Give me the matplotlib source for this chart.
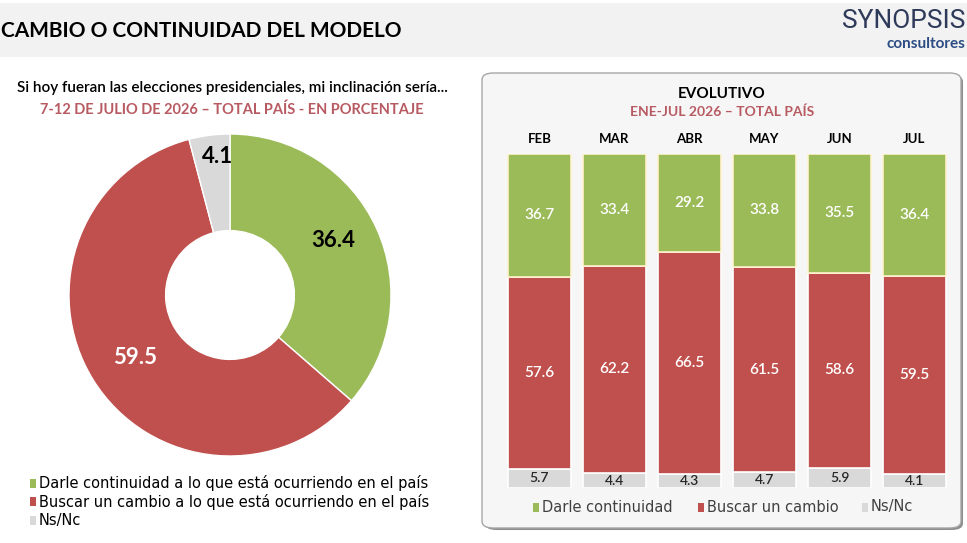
import numpy as np
import matplotlib.pyplot as plt
from matplotlib.patches import FancyBboxPatch, Rectangle

# ==========================================
# DATA
# ==========================================

pie_labels = ["Darle continuidad a lo que está ocurriendo en el país",
              "Buscar un cambio a lo que está ocurriendo en el país",
              "Ns/Nc"]
pie_values = [36.4, 59.5, 4.1]

months = ["FEB", "MAR", "ABR", "MAY", "JUN", "JUL"]
continuidad = [36.7, 33.4, 29.2, 33.8, 35.5, 36.4]
cambio = [57.6, 62.2, 66.5, 61.5, 58.6, 59.5]
nsnc = [5.7, 4.4, 4.3, 4.7, 5.9, 4.1]
bar_legend = ["Darle continuidad", "Buscar un cambio", "Ns/Nc"]

GREEN = "#9bbb59"
RED = "#c0504d"
GRAY = "#d9d9d9"
ROSE = "#b85a62"
colors = [GREEN, RED, GRAY]

plt.rcParams["font.family"] = ["Lato", "DejaVu Sans"]

W, H = 967, 543
fig = plt.figure(figsize=(W / 100, H / 100), dpi=100)
fig.patch.set_facecolor("white")


def fx(px):
    return px / W


def fy(py):
    return 1 - py / H


# ==========================================
# HEADER
# ==========================================

fig.patches.append(Rectangle((0, fy(57)), 1, fy(3) - fy(57), transform=fig.transFigure,
                             facecolor="#f2f2f2", edgecolor="none", zorder=0))
fig.text(fx(1), fy(31), "CAMBIO O CONTINUIDAD DEL MODELO", fontsize=15,
         fontweight="bold", va="center", ha="left", color="black")
fig.text(fx(965), fy(21), "SYNOPSIS", fontsize=19, color="#2e3a59",
         va="center", ha="right", fontfamily=["Roboto", "DejaVu Sans"])
fig.text(fx(965), fy(44), "consultores", fontsize=11, color="#2b4c82",
         va="center", ha="right", fontweight="bold")

# ==========================================
# LEFT: DONUT
# ==========================================

fig.text(fx(232), fy(88), "Si hoy fueran las elecciones presidenciales, mi inclinación sería...",
         fontsize=11, fontweight="semibold", ha="center", va="center")
fig.text(fx(232), fy(110), "7-12 DE JULIO DE 2026 – TOTAL PAÍS - EN PORCENTAJE",
         fontsize=10.5, fontweight="bold", ha="center", va="center", color=ROSE)

cx, cy, r = 230, 295, 161
ax_pie = fig.add_axes([fx(cx - r), fy(cy + r), 2 * r / W, 2 * r / H])
ax_pie.set_zorder(1)
wedges, _ = ax_pie.pie(pie_values, colors=colors, startangle=90, counterclock=False,
                       radius=1, wedgeprops=dict(width=0.6, edgecolor="white", linewidth=1))
ax_pie.set_aspect("equal")
ax_pie.set_xlim(-1, 1)
ax_pie.set_ylim(-1, 1)

pie_text_pos = [(0.64, 0.34), (-0.59, -0.39), (-0.08, 0.86)]
pie_text_col = ["black", "white", "black"]
for v, (tx, ty), c in zip(pie_values, pie_text_pos, pie_text_col):
    ax_pie.text(tx, ty, f"{v:.1f}", fontsize=16, fontweight="bold", color=c,
                ha="center", va="center")

for i, lab in enumerate(pie_labels):
    y = 483 + i * 18.5
    fig.patches.append(Rectangle((fx(30), fy(y + 4.5)), 6 / W, 9 / H, transform=fig.transFigure,
                                 facecolor=colors[i], edgecolor="none"))
    fig.text(fx(39), fy(y), lab, fontsize=10.5, va="center", ha="left",
             fontfamily="DejaVu Sans")

# ==========================================
# RIGHT: EVOLUTIVO PANEL
# ==========================================

shadow = FancyBboxPatch((fx(485), fy(530)), fx(962) - fx(484), fy(75) - fy(530),
                        boxstyle="round,pad=0,rounding_size=0.012", transform=fig.transFigure,
                        facecolor="#8c8c8c", edgecolor="none", zorder=0.5)
panel = FancyBboxPatch((fx(482), fy(528)), fx(961) - fx(482), fy(73) - fy(528),
                       boxstyle="round,pad=0,rounding_size=0.012", transform=fig.transFigure,
                       facecolor="#f6f6f6", edgecolor="#a6a6a6", linewidth=1, zorder=0.6)
fig.patches.extend([shadow, panel])

fig.text(fx(722), fy(94), "EVOLUTIVO", fontsize=11, fontweight="bold", ha="center", va="center")
fig.text(fx(722), fy(112), "ENE-JUL 2026 – TOTAL PAÍS", fontsize=10, fontweight="bold",
         ha="center", va="center", color=ROSE)

ax_bar = fig.add_axes([fx(502), fy(488), fx(952) - fx(502), fy(154) - fy(488)])
ax_bar.set_zorder(1)
ax_bar.set_facecolor("none")
x = np.arange(len(months))
bw = 0.85
ns = np.array(nsnc)
ca = np.array(cambio)
co = np.array(continuidad)
ax_bar.bar(x, ns, bw, color=GRAY, edgecolor="white", linewidth=1.2)
ax_bar.bar(x, ca, bw, bottom=ns, color=RED, edgecolor="white", linewidth=1.2)
ax_bar.bar(x, co, bw, bottom=ns + ca, color=GREEN, edgecolor="#fff2cc", linewidth=1.2)
ax_bar.set_xlim(-0.5, len(months) - 0.5)
ax_bar.set_ylim(0, 100)
ax_bar.axis("off")

for i in range(len(months)):
    ax_bar.text(x[i], ns[i] / 2, f"{ns[i]:.1f}", fontsize=10, fontweight="semibold",
                ha="center", va="center", color="#262626")
    ax_bar.text(x[i], ns[i] + ca[i] / 2, f"{ca[i]:.1f}", fontsize=11, fontweight="semibold",
                ha="center", va="center", color="white")
    ax_bar.text(x[i], ns[i] + ca[i] + co[i] / 2, f"{co[i]:.1f}", fontsize=11,
                fontweight="semibold", ha="center", va="center", color="white")
    ax_bar.text(x[i], 104.5, months[i], fontsize=9.5, fontweight="bold",
                ha="center", va="center")

leg_x = [533, 698, 862]
for i, lab in enumerate(bar_legend):
    fig.patches.append(Rectangle((fx(leg_x[i]), fy(511.5)), 6 / W, 9 / H, transform=fig.transFigure,
                                 facecolor=colors[i], edgecolor="none", zorder=2))
    fig.text(fx(leg_x[i] + 9), fy(507), lab, fontsize=10.5, va="center", ha="left", color="#404040",
             fontfamily="DejaVu Sans")

fig.savefig("out.png", dpi=100)
